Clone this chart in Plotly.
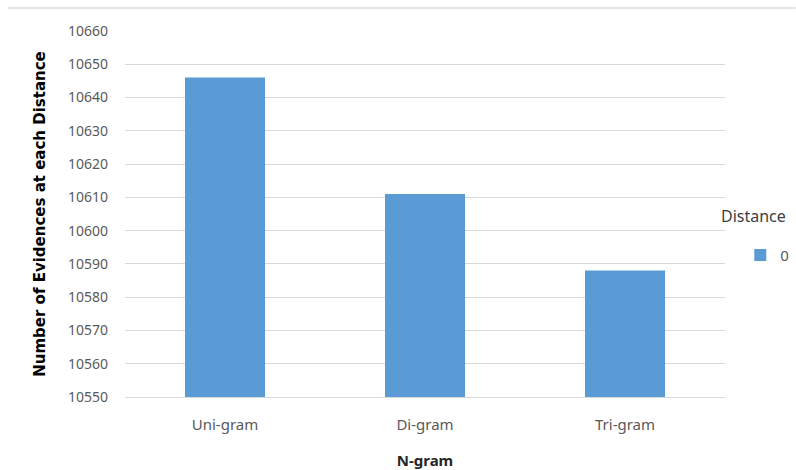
import plotly.graph_objects as go

categories = ["Uni-gram", "Di-gram", "Tri-gram"]
evidences = [10646, 10611, 10588]
series_name = "0"
legend_title = "Distance"
y_ticks = [10550, 10560, 10570, 10580, 10590, 10600, 10610, 10620, 10630, 10640, 10650, 10660]

bar_color = "#5b9bd5"
grid_color = "#d9d9d9"
text_color = "#595959"
font_family = "Noto Sans, Open Sans, sans-serif"

fig = go.Figure()
fig.add_trace(go.Bar(
    x=categories,
    y=[v - y_ticks[0] for v in evidences],
    base=y_ticks[0],
    name=series_name,
    marker=dict(color=bar_color, line=dict(width=0)),
    width=0.4,
    hovertemplate="%{x}: %{y}<extra></extra>",
))

fig.update_layout(
    width=796, height=470,
    margin=dict(l=125, r=71, t=31, b=73, autoexpand=False),
    paper_bgcolor="white", plot_bgcolor="white",
    font=dict(family=font_family, color=text_color, size=14),
    showlegend=True,
    legend=dict(
        xref="container", x=0.93, xanchor="left",
        yref="container", y=0.457, yanchor="middle",
        font=dict(size=15, color=text_color),
        itemwidth=30,
        bgcolor="rgba(0,0,0,0)",
    ),
    annotations=[dict(
        text=legend_title, xref="paper", yref="paper",
        x=(719 - 125) / 600, y=(397 - 216) / 366,
        xanchor="left", yanchor="middle", showarrow=False,
        font=dict(size=16, color="#404040"),
    )],
    xaxis=dict(
        title=dict(text="<b>N-gram</b>", font=dict(size=15, color="#262626"), standoff=22),
        showgrid=False, showline=True, linecolor=grid_color, linewidth=1,
        ticks="", tickfont=dict(size=15, color=text_color),
        ticklabelstandoff=14,
    ),
    yaxis=dict(
        title=dict(text="<b>Number of Evidences at each Distance</b>",
                   font=dict(size=15, color="#000000", family="DejaVu Sans, sans-serif"),
                   standoff=18),
        range=[y_ticks[0], y_ticks[-1]],
        tickvals=y_ticks, tickformat="d",
        showgrid=True, gridcolor=grid_color, gridwidth=1,
        zeroline=False, showline=False, ticks="",
        tickfont=dict(size=14, color=text_color),
        ticklabelstandoff=16,
    ),
    shapes=[dict(type="line", xref="paper", yref="paper",
                 x0=-0.195, x1=1.118, y0=1.063, y1=1.063,
                 line=dict(color="#d9d9d9", width=1.5))],
)

fig.write_html("out.html")
